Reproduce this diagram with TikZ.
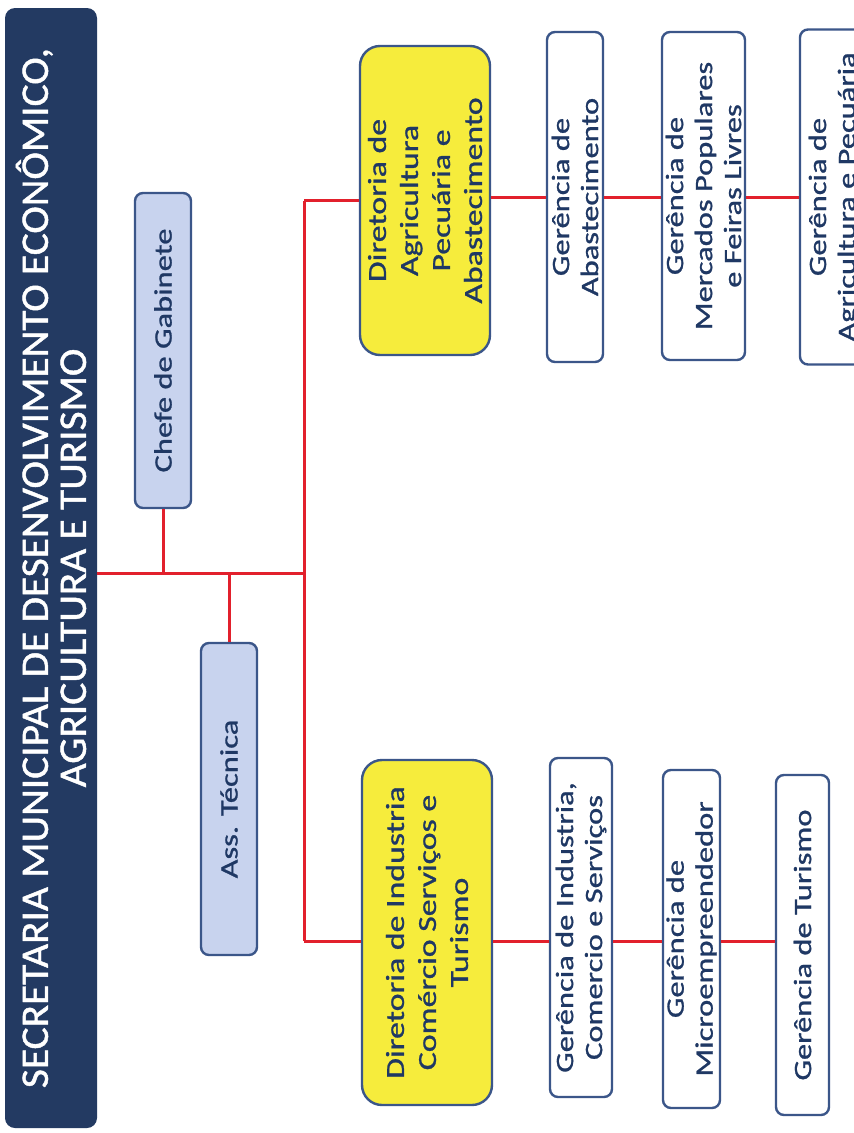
\documentclass[tikz,border=0pt]{standalone}
\usepackage{fontspec}
\setmainfont{Carlito}
\newfontfamily\boxfont[FakeStretch=1.3,FakeBold=1]{Carlito}
\newfontfamily\titlefont[FakeStretch=1.06,FakeBold=1.2]{Carlito}
\definecolor{navy}{HTML}{233A62}
\definecolor{boxblue}{HTML}{3B5689}
\definecolor{txtblue}{HTML}{1F3864}
\definecolor{lblue}{HTML}{C8D3EE}
\definecolor{yell}{HTML}{F6EC3C}
\definecolor{redl}{HTML}{E2202C}
\begin{document}
\begin{tikzpicture}[x=1pt,y=-1pt,
  box/.style={draw=boxblue, line width=2.4pt, rounded corners=8pt, rotate=90,
    align=center, text=txtblue, inner sep=0pt,
    font=\boxfont\fontsize{25}{29}\selectfont},
  staff/.style={box, fill=lblue, minimum height=56pt},
  dir/.style={box, fill=yell, rounded corners=20pt, minimum height=130pt,
    font=\boxfont\fontsize{26}{32}\selectfont},
  ger/.style={box, fill=white},
  conn/.style={draw=redl, line width=3pt}]
\clip (0,0) rectangle (854,1133);
\fill[white] (0,0) rectangle (854,1133);

\node[rotate=90, fill=navy, rounded corners=10pt, minimum width=1120pt,
  minimum height=92pt, text=white, align=center, inner sep=0pt,
  font=\titlefont\fontsize{39}{38}\selectfont] (title) at (51,568)
  {SECRETARIA MUNICIPAL DE DESENVOLVIMENTO ECONÔMICO,\\AGRICULTURA E TURISMO};

\node[staff, minimum width=315pt] (chefe) at (163,350.5) {Chefe de Gabinete};
\node[staff, minimum width=312pt] (ass) at (229,799) {Ass. Técnica};

\node[dir, minimum width=309pt] (dirA) at (425,200.5)
  {Diretoria de\\Agricultura\\Pecuária e\\Abastecimento};
\node[dir, minimum width=345pt] (dirI) at (427,932.5)
  {Diretoria de Industria\\Comércio Serviços e\\Turismo};

\node[ger, minimum width=330pt, minimum height=56pt] (gA1) at (575,197)
  {Gerência de\\Abastecimento};
\node[ger, minimum width=328pt, minimum height=83pt] (gA2) at (703.5,196)
  {Gerência de\\Mercados Populares\\e Feiras Livres};
\node[ger, minimum width=335pt, minimum height=68pt] (gA3) at (834,197)
  {Gerência de\\Agricultura e Pecuária};

\node[ger, minimum width=339pt, minimum height=62pt] (gI1) at (581,927.5)
  {Gerência de Industria,\\Comercio e Serviços};
\node[ger, minimum width=338pt, minimum height=57pt] (gI2) at (691.5,939)
  {Gerência de\\Microempreendedor};
\node[ger, minimum width=340pt, minimum height=53pt] (gI3) at (802.5,945)
  {Gerência de Turismo};

\coordinate (hub) at (304,573);
\coordinate (rowB) at (304,941);

\draw[conn] (title.south |- hub) -- (hub);
\draw[conn] (chefe.west) -- (chefe.west |- hub);
\draw[conn] (ass.east) -- (ass.east |- hub);
\draw[conn] (dirA.north -| hub) -- (rowB);
\draw[conn] (dirA.north -| hub) -- (dirA.north);
\draw[conn] (rowB) -- (rowB -| dirI.north);

\draw[conn] (dirA.south |- gA1.north) -- (gA1.north);
\draw[conn] (gA1.south) -- (gA1.south -| gA2.north);
\draw[conn] (gA2.south |- gA1.south) -- (gA1.south -| gA3.north);

\draw[conn] (rowB -| dirI.south) -- (rowB -| gI1.north);
\draw[conn] (rowB -| gI1.south) -- (rowB -| gI2.north);
\draw[conn] (rowB -| gI2.south) -- (rowB -| gI3.north);
\end{tikzpicture}
\end{document}
